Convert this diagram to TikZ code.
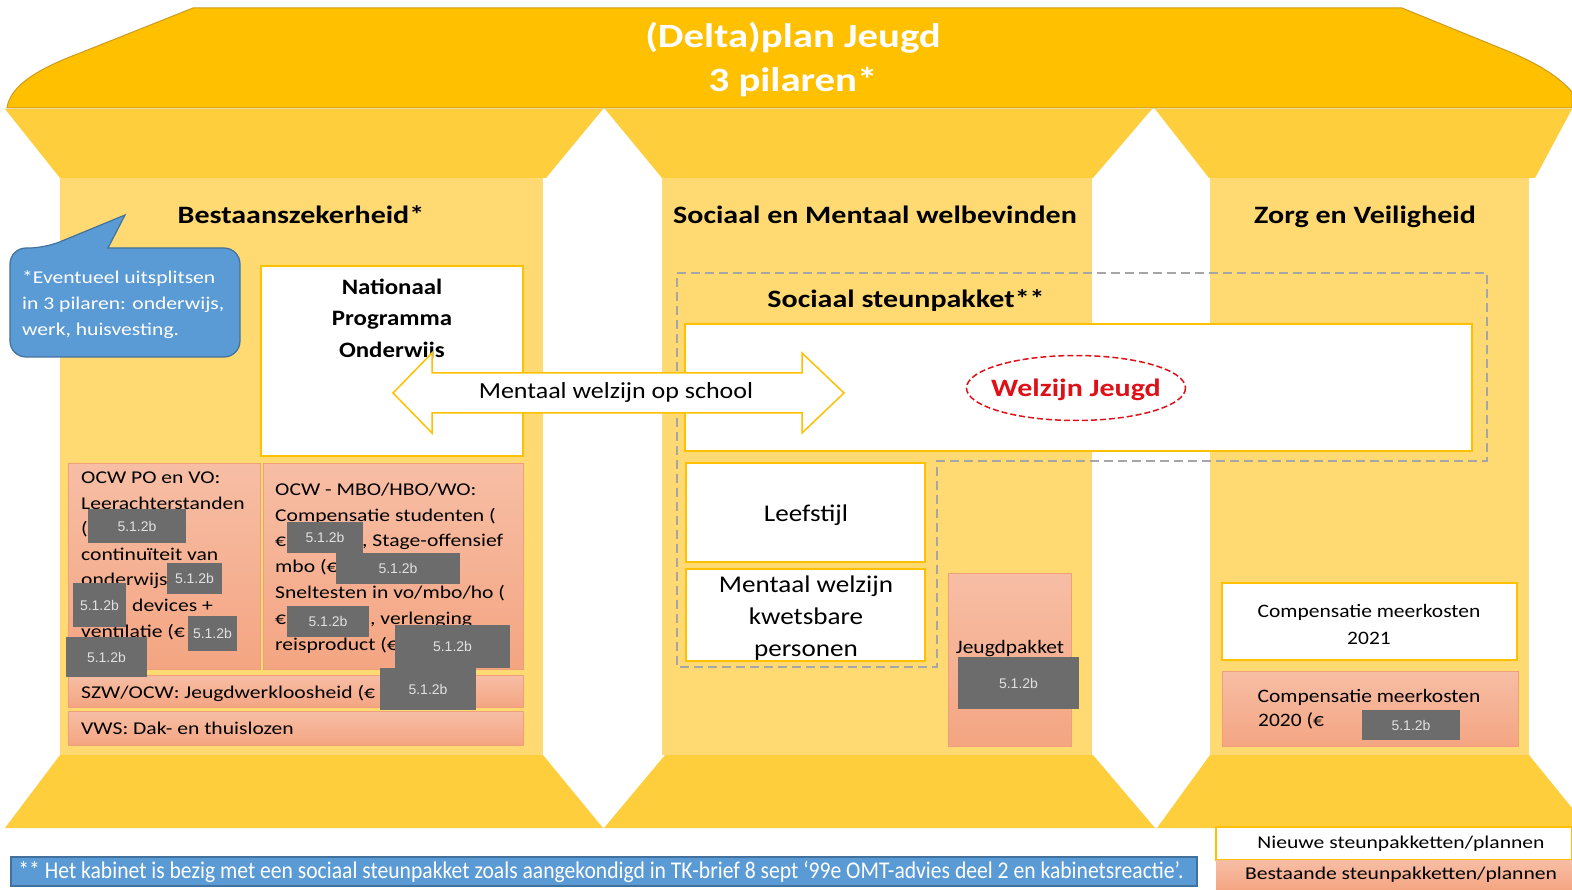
\documentclass[tikz,border=0pt]{standalone}
\usepackage{graphicx}
\usepackage{fontspec}
\setmainfont{Carlito}[FakeStretch=1.2]
\newfontfamily\calx{Carlito}[FakeStretch=1.13]
\newfontfamily\arialf{Liberation Sans}
\definecolor{roof}{RGB}{255,192,0}
\definecolor{roofline}{RGB}{205,155,30}
\definecolor{capc}{RGB}{255,206,60}
\definecolor{colc}{RGB}{255,218,115}
\definecolor{ybord}{RGB}{255,192,0}
\definecolor{ortop}{RGB}{247,190,165}
\definecolor{orbot}{RGB}{244,165,130}
\definecolor{orbord}{RGB}{240,160,120}
\definecolor{redg}{RGB}{108,108,108}
\definecolor{redt}{RGB}{225,225,225}
\definecolor{bluef}{RGB}{91,155,213}
\definecolor{blueb}{RGB}{65,113,156}
\definecolor{dgray}{RGB}{166,166,166}
\definecolor{wjred}{RGB}{222,16,24}
\newcommand\fs[1]{\fontsize{#1}{#1}\selectfont}
\newcommand\redact[5]{\fill[redg] (#2,#3) rectangle (#4,#5);
  \node[redtxt] (#1) at ({(#2+#4)/2},{(#3+#5)/2}) {5.1.2b};}
\begin{document}
\begin{tikzpicture}[x=1pt,y=-1pt,
  whitebox/.style={fill=white,draw=ybord,line width=1.5pt},
  orangebox/.style={top color=ortop,bottom color=orbot,draw=orbord,line width=0.8pt},
  redtxt/.style={text=redt,font=\arialf\fs{14},inner sep=0pt},
  ltxt/.style={anchor=base west,inner sep=0pt,font=\fs{18}},
  ctxt/.style={inner sep=0pt,align=center},
  head/.style={inner sep=0pt,anchor=base,font=\bfseries\fs{25}},
  legtxt/.style={inner sep=0pt,font=\fs{18}}]
\useasboundingbox (0,0) rectangle (1572,890);
\fill[white] (0,0) rectangle (1572,890);
% roof
\path[fill=roof,draw=roofline,line width=1pt] (7,108) .. controls (10,85) and (40,68) .. (80,53) -- (193,8) -- (1402,8) -- (1505,50) .. controls (1540,64) and (1560,78) .. (1572,92) -- (1572,108) -- cycle;
% capitals
\fill[capc] (5,109) -- (603,109) -- (546,178) -- (60,178) -- cycle;
\fill[capc] (605,109) -- (1152,109) -- (1093,178) -- (662,178) -- cycle;
\fill[capc] (1155,109) -- (1572,109) -- (1535,178) -- (1209,178) -- cycle;
% columns
\fill[colc] (60,178) rectangle (543,755);
\fill[colc] (662,178) rectangle (1092,755);
\fill[colc] (1210,178) rectangle (1529,755);
% bases
\fill[capc] (60,755) -- (543,755) -- (603,828) -- (5,828) -- cycle;
\fill[capc] (665,755) -- (1093,755) -- (1155,828) -- (604,828) -- cycle;
\fill[capc] (1210,755) -- (1529,755) -- (1572,808) -- (1572,828) -- (1157,828) -- cycle;
% title and headers
\node[ctxt,text=white,font=\bfseries\fs{34}] (title) at (793,60) {(Delta)plan Jeugd\\[10pt]3 pilaren*};
\node[head] (h1) at (301,223.5) {Bestaanszekerheid*};
\node[head] (h2) at (875,223.5) {Sociaal en Mentaal welbevinden};
\node[head] (h3) at (1365,223.5) {Zorg en Veiligheid};
% callout
\draw[fill=bluef,draw=blueb,line width=1.2pt] (10,300) [rounded corners=16] -- (10,248) -- (45,248) [sharp corners] -- (125,215) -- (108,248) [rounded corners=16] -- (240,248) -- (240,357) -- (10,357) -- cycle;
\node[ltxt,text=white,align=left,anchor=north west] (callout) at (22,271) {*Eventueel uitsplitsen\\[8pt]in 3 pilaren: onderwijs,\\[8pt]werk, huisvesting.};
% NPO box
\draw[whitebox] (261,266) rectangle (523,456);
\node[ctxt,font=\calx\bfseries\fs{22}] (npo) at (392,320) {Nationaal\\[9.5pt]Programma\\[9.5pt]Onderwijs};
% orange boxes left
\draw[orangebox] (68,463) rectangle (260,669);
\draw[orangebox] (263,463) rectangle (523,669);
\draw[orangebox] (68,675) rectangle (523,707);
\draw[orangebox] (68,711) rectangle (523,745);
\node[ltxt] (a1) at (81,483) {OCW PO en VO:};
\node[ltxt] (a2) at (81,509) {Leerachterstanden};
\node[ltxt] (a3) at (81,534) {(};
\node[ltxt] (a4) at (81,560) {continuïteit van};
\node[ltxt] (a5) at (81,585) {onderwijs};
\node[ltxt] (a6) at (132,611) {devices +};
\node[ltxt] (a7) at (81,637) {ventilatie (€};
\node[ltxt] (b1) at (275,495) {OCW - MBO/HBO/WO:};
\node[ltxt] (b2) at (275,521) {Compensatie studenten (};
\node[ltxt] (b3) at (275,546) {€};
\node[ltxt] (b3b) at (362,546) {, Stage-offensief};
\node[ltxt] (b4) at (275,572) {mbo (€};
\node[ltxt] (b5) at (275,598) {Sneltesten in vo/mbo/ho (};
\node[ltxt] (b6) at (275,624) {€};
\node[ltxt] (b6b) at (370,624) {, verlenging};
\node[ltxt] (b7) at (275,650) {reisproduct (€};
\node[ltxt] (c1) at (81,698) {SZW/OCW: Jeugdwerkloosheid (€};
\node[ltxt] (d1) at (81,734) {VWS: Dak- en thuislozen};
% middle column
\draw[dgray,line width=2.5pt,dash pattern=on 9pt off 5pt] (677,273) -- (1487,273) -- (1487,461) -- (937,461) -- (937,667) -- (677,667) -- cycle;
\node[head] (ssp) at (906,307.5) {Sociaal steunpakket**};
\draw[whitebox] (685,324) rectangle (1472,451);
\node[inner sep=0pt,text depth=0pt,text=wjred,font=\bfseries\fs{25}] (wj) at (1076,388) {Welzijn Jeugd};
\draw[wjred,line width=1.5pt,dash pattern=on 6pt off 3pt] (wj.center) ellipse [x radius=109.5, y radius=32.5];
\draw[whitebox] (686,463) rectangle (925,562);
\node[inner sep=0pt,anchor=base,font=\calx\fs{24}] (leef) at (806,521.5) {Leefstijl};
\draw[whitebox] (686,569) rectangle (925,661);
\node[ctxt,font=\calx\fs{24}] (mwk) at (806,618) {Mentaal welzijn\\[8pt]kwetsbare\\[8pt]personen};
\draw[orangebox] (948,573) rectangle (1071,746);
\node[inner sep=0pt,anchor=base,font=\calx\fs{19}] (jp) at (1010,653) {Jeugdpakket};
% right column
\draw[whitebox] (1222,583) rectangle (1517,660);
\node[ctxt,font=\calx\fs{19}] (cm1) at (1369,624) {Compensatie meerkosten\\[8pt]2021};
\draw[orangebox] (1222,671) rectangle (1518,746);
\node[inner sep=0pt,anchor=base,font=\calx\fs{19}] (cm2) at (1369,702) {Compensatie meerkosten};
\node[inner sep=0pt,anchor=base west,font=\calx\fs{19}] (cm2b) at (1258,726) {2020 (€};
% double arrow
\draw[fill=white,draw=ybord,line width=1.5pt] (393,393) -- (432,353) -- (432,373) -- (802,373) -- (802,353) -- (844,393) -- (802,433) -- (802,413) -- (432,413) -- (432,433) -- cycle;
\node[inner sep=0pt,anchor=base,font=\calx\fs{23}] (arrtxt) at (616,398.5) {Mentaal welzijn op school};
% redactions
\redact{r1}{88}{509}{186}{543}
\redact{r2}{167}{563}{222}{594}
\redact{r3}{73}{583}{126}{627}
\redact{r4}{188}{616}{237}{651}
\redact{r5}{66}{637}{147}{677}
\redact{r6}{287}{522}{363}{553}
\redact{r7}{336}{553}{460}{584}
\redact{r8}{287}{606}{369}{637}
\redact{r9}{395}{625}{510}{668}
\redact{r10}{380}{668}{476}{710}
\redact{r11}{958}{657}{1079}{709}
\redact{r12}{1362}{710}{1460}{740}
% legend
\draw[whitebox] (1216,827) rectangle (1572,860);
\fill[top color=ortop,bottom color=orbot] (1216,860) rectangle (1572,890);
\node[legtxt] (leg1) at (1401,844) {Nieuwe steunpakketten/plannen};
\node[legtxt] (leg2) at (1401,875) {Bestaande steunpakketten/plannen};
% bottom note
\draw[fill=bluef,draw=blueb,line width=1.5pt] (11,857) rectangle (1197,886);
\node[inner sep=0pt,text=white] (note) at (601,872) {\resizebox{1165pt}{\height}{\fs{24}** Het kabinet is bezig met een sociaal steunpakket zoals aangekondigd in TK-brief 8 sept ‘99e OMT-advies deel 2 en kabinetsreactie’.}};
\end{tikzpicture}
\end{document}
